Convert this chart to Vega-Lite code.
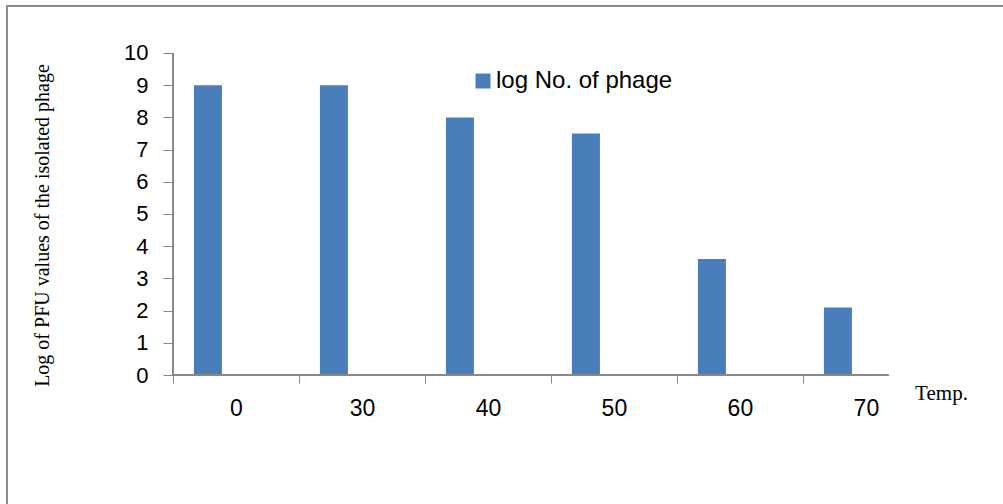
{
  "$schema": "https://vega.github.io/schema/vega-lite/v6.json",
  "autosize": "none",
  "padding": {"left": 7, "top": 6, "right": 0, "bottom": 0},
  "width": 1000,
  "height": 500,
  "background": "white",
  "config": {
    "view": {"stroke": "#8c8c8c", "strokeWidth": 2},
    "font": "Liberation Sans"
  },
  "data": {
    "values": [
      {"temp": "0", "value": 9.0, "series": "log No. of phage"},
      {"temp": "30", "value": 9.0, "series": "log No. of phage"},
      {"temp": "40", "value": 8.0, "series": "log No. of phage"},
      {"temp": "50", "value": 7.5, "series": "log No. of phage"},
      {"temp": "60", "value": 3.6, "series": "log No. of phage"},
      {"temp": "70", "value": 2.1, "series": "log No. of phage"}
    ]
  },
  "layer": [
    {
      "mark": {"type": "bar", "color": "#4a7ebb"},
      "encoding": {
        "x": {
          "field": "temp",
          "type": "nominal",
          "sort": null,
          "scale": {"paddingInner": 0, "paddingOuter": 0.9683, "align": 0.68},
          "axis": {
            "title": "Temp.",
            "titleFont": "Liberation Serif",
            "titleFontSize": 21,
            "titleFontWeight": "normal",
            "titleColor": "#000",
            "titleX": 934,
            "titleY": 18,
            "titleAlign": "center",
            "titleBaseline": "middle",
            "offset": -131,
            "domain": false,
            "tickOffset": -63,
            "labelOffset": 63,
            "tickSize": 8,
            "tickColor": "#888888",
            "labelFontSize": 23,
            "labelPadding": 14,
            "labelColor": "#000",
            "labelAngle": 0,
            "grid": false
          }
        },
        "xOffset": {
          "field": "series",
          "type": "nominal",
          "scale": {"domain": ["log No. of phage", "blank"], "paddingInner": 0.5, "paddingOuter": 0.375}
        },
        "y": {
          "field": "value",
          "type": "quantitative",
          "scale": {"domain": [-4.0683, 11.4596], "nice": false, "zero": false},
          "axis": {
            "title": "Log of PFU values of the isolated phage",
            "titleFont": "Liberation Serif",
            "titleFontSize": 20,
            "titleFontWeight": "normal",
            "titleColor": "#000",
            "titleAngle": -90,
            "titleX": -131,
            "titleY": 219,
            "titleAlign": "center",
            "titleBaseline": "middle",
            "offset": -166,
            "domain": false,
            "values": [0, 1, 2, 3, 4, 5, 6, 7, 8, 9, 10],
            "tickSize": 10,
            "tickColor": "#888888",
            "labelFontSize": 22,
            "labelPadding": 15,
            "labelColor": "#000",
            "grid": false
          }
        },
        "color": {
          "field": "series",
          "type": "nominal",
          "scale": {"range": ["#4a7ebb"]},
          "legend": {
            "orient": "none",
            "legendX": 464,
            "legendY": 63,
            "title": null,
            "symbolType": "square",
            "symbolSize": 225,
            "symbolStrokeWidth": 0,
            "symbolOpacity": 1,
            "labelFontSize": 24,
            "labelOffset": 1,
            "labelLimit": 400,
            "labelColor": "#000",
            "padding": 0
          }
        }
      }
    },
    {
      "mark": {"type": "rule", "color": "#888888", "strokeWidth": 1},
      "encoding": {
        "x": {"datum": "0", "type": "nominal", "bandPosition": 0},
        "y": {"datum": 0, "type": "quantitative"},
        "y2": {"datum": 10}
      }
    },
    {
      "mark": {"type": "rule", "color": "#888888", "strokeWidth": 1},
      "encoding": {
        "x": {"datum": "0", "type": "nominal", "bandPosition": 0},
        "x2": {"datum": "70", "bandPosition": 0.68},
        "y": {"datum": 0, "type": "quantitative"}
      }
    }
  ]
}
